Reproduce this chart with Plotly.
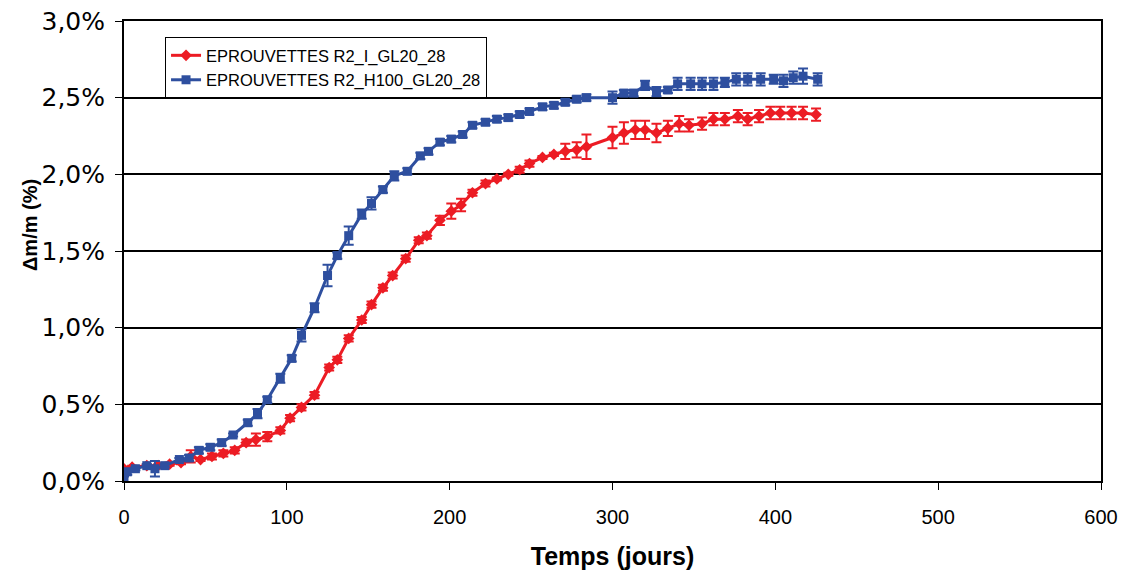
import plotly.graph_objects as go

# Red series: EPROUVETTES R2_I_GL20_28
red_x = [0, 5, 14, 21, 28, 35, 41, 47, 54, 61, 68, 75, 81, 88, 96, 102, 109, 117, 126, 131,
         138, 146, 152, 159, 165, 173, 181, 186, 194, 201, 207, 214, 222, 229, 236, 243, 249,
         257, 264, 271, 278, 284, 300, 307, 314, 320, 327, 334, 341, 347, 355, 362, 369, 377,
         383, 390, 397, 403, 410, 417, 425]
red_y = [0.08, 0.09, 0.10, 0.10, 0.11, 0.12, 0.16, 0.14, 0.16, 0.18, 0.20, 0.25, 0.27, 0.29, 0.33,
         0.41, 0.48, 0.56, 0.74, 0.79, 0.93, 1.05, 1.15, 1.26, 1.34, 1.45, 1.57, 1.60, 1.70, 1.76,
         1.80, 1.88, 1.94, 1.97, 2.00, 2.03, 2.07, 2.11, 2.13, 2.15, 2.16, 2.18, 2.24, 2.27, 2.29,
         2.29, 2.27, 2.30, 2.33, 2.32, 2.33, 2.36, 2.36, 2.38, 2.36, 2.38, 2.40, 2.40, 2.40, 2.40,
         2.39]
red_err = [0.01, 0.01, 0.01, 0.01, 0.01, 0.01, 0.04, 0.01, 0.02, 0.02, 0.02, 0.02, 0.04, 0.03, 0.02,
           0.02, 0.02, 0.02, 0.02, 0.02, 0.02, 0.02, 0.02, 0.02, 0.02, 0.02, 0.02, 0.02, 0.03, 0.05,
           0.04, 0.02, 0.02, 0.01, 0.01, 0.02, 0.02, 0.01, 0.01, 0.05, 0.05, 0.08, 0.07, 0.07, 0.06,
           0.06, 0.06, 0.05, 0.05, 0.04, 0.04, 0.04, 0.04, 0.04, 0.04, 0.04, 0.04, 0.04, 0.04, 0.04,
           0.04]

# Blue series: EPROUVETTES R2_H100_GL20_28
blue_x = [0, 2, 7, 14, 19, 25, 34, 40, 46, 53, 60, 67, 76, 82, 88, 96, 103, 109, 117, 125, 131,
          138, 146, 152, 159, 166, 174, 182, 187, 194, 201, 208, 214, 222, 229, 236, 243, 249, 257,
          264, 271, 278, 284, 300, 307, 313, 320, 327, 334, 340, 348, 355, 362, 369, 376, 383, 391,
          399, 405, 411, 417, 426]
blue_y = [0.01, 0.06, 0.08, 0.10, 0.08, 0.10, 0.14, 0.15, 0.20, 0.22, 0.25, 0.30, 0.38, 0.44, 0.53,
          0.67, 0.80, 0.95, 1.13, 1.34, 1.47, 1.60, 1.74, 1.81, 1.90, 1.99, 2.02, 2.12, 2.15, 2.21,
          2.23, 2.26, 2.32, 2.34, 2.36, 2.37, 2.39, 2.41, 2.44, 2.45, 2.47, 2.49, 2.50, 2.50, 2.53,
          2.53, 2.58, 2.54, 2.55, 2.59, 2.59, 2.59, 2.59, 2.60, 2.62, 2.62, 2.62, 2.62, 2.61, 2.63,
          2.64, 2.62]
blue_err = [0.02, 0.02, 0.01, 0.01, 0.05, 0.01, 0.01, 0.02, 0.02, 0.02, 0.02, 0.01, 0.02, 0.03, 0.02,
            0.03, 0.02, 0.04, 0.03, 0.07, 0.02, 0.06, 0.03, 0.04, 0.02, 0.03, 0.02, 0.02, 0.02, 0.02,
            0.02, 0.02, 0.02, 0.02, 0.02, 0.02, 0.02, 0.02, 0.02, 0.02, 0.02, 0.02, 0.02, 0.04, 0.02,
            0.02, 0.03, 0.03, 0.02, 0.04, 0.04, 0.04, 0.04, 0.03, 0.04, 0.04, 0.04, 0.03, 0.04, 0.04,
            0.05, 0.04]

x_ticks = [0, 100, 200, 300, 400, 500, 600]
y_ticks = [0, 0.5, 1.0, 1.5, 2.0, 2.5, 3.0]
y_tick_labels = ["0,0%", "0,5%", "1,0%", "1,5%", "2,0%", "2,5%", "3,0%"]

RED = "#ec1c24"
BLUE = "#2e4f9f"

fig = go.Figure()
fig.add_trace(go.Scatter(
    x=red_x, y=red_y, mode="lines+markers", name="EPROUVETTES R2_I_GL20_28",
    line=dict(color=RED, width=3),
    marker=dict(symbol="diamond", size=9, color=RED),
    error_y=dict(type="data", array=red_err, visible=True, color=RED, thickness=2, width=5),
))
fig.add_trace(go.Scatter(
    x=blue_x, y=blue_y, mode="lines+markers", name="EPROUVETTES R2_H100_GL20_28",
    line=dict(color=BLUE, width=3),
    marker=dict(symbol="square", size=9, color=BLUE),
    error_y=dict(type="data", array=blue_err, visible=True, color=BLUE, thickness=2, width=5),
))

fig.update_layout(
    width=1121, height=569,
    margin=dict(l=116, r=28, t=13, b=96),
    paper_bgcolor="white", plot_bgcolor="white",
    font=dict(family="Liberation Sans, Arial, sans-serif", color="black"),
    showlegend=True,
    legend=dict(
        x=0.042, y=0.965, xanchor="left", yanchor="top",
        bgcolor="white", bordercolor="black", borderwidth=1,
        font=dict(size=16.5, family="Liberation Sans, Arial, sans-serif"),
        tracegroupgap=0, itemwidth=30,
    ),
    annotations=[dict(
        text="<b>Δm/m (%)</b>", textangle=-90, showarrow=False,
        xref="paper", yref="paper", x=-0.0962, y=0.5565,
        xanchor="center", yanchor="middle",
        font=dict(size=20, family="Liberation Sans, Arial", color="black"),
    )],
)
fig.update_xaxes(
    range=[0, 600], tickvals=x_ticks, ticktext=[str(v) for v in x_ticks],
    showgrid=False, zeroline=False, automargin=False, ticklabeloverflow="allow",
    showline=True, linecolor="black", linewidth=2, mirror=True,
    ticks="outside", ticklen=7, tickcolor="black", tickwidth=1, ticklabelstandoff=10,
    tickfont=dict(size=20, family="Liberation Sans, Arial"),
    title=dict(text="<b>Temps (jours)</b>", font=dict(size=25, family="Liberation Sans, Arial"), standoff=20),
)
fig.update_yaxes(
    range=[0, 3.0], tickvals=y_ticks, ticktext=y_tick_labels,
    showgrid=True, gridcolor="black", gridwidth=1.5, zeroline=False, automargin=False,
    ticklabeloverflow="allow",
    showline=True, linecolor="black", linewidth=2, mirror=True,
    ticks="outside", ticklen=7, tickcolor="black", tickwidth=1, ticklabelstandoff=5,
    tickfont=dict(size=25, family="DejaVu Sans, Liberation Sans, Arial"),
)

fig.write_html("out.html")
